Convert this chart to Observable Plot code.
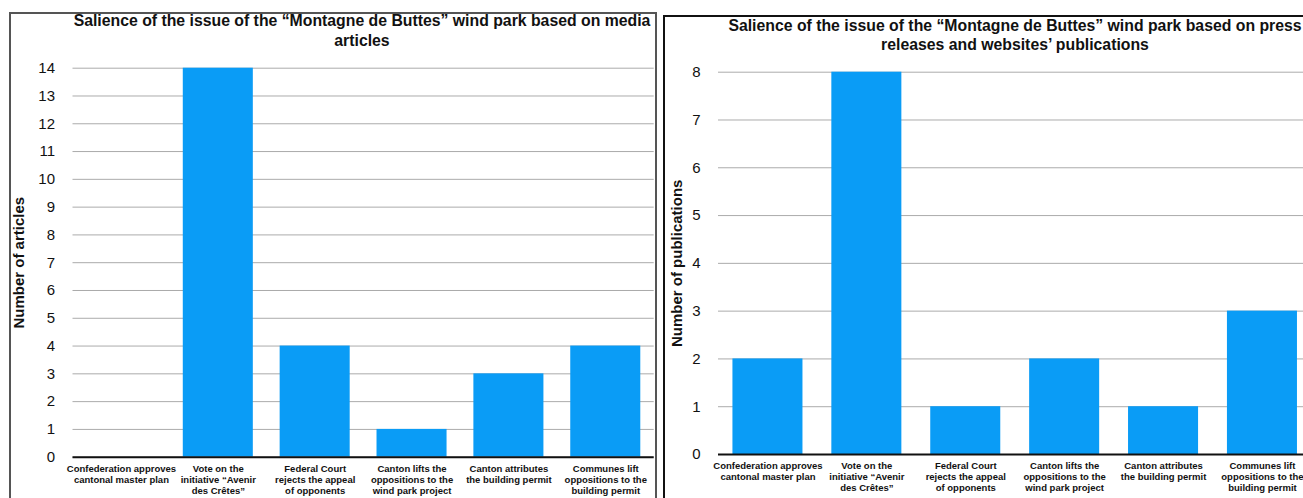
<!DOCTYPE html>
<html>
<head>
<meta charset="utf-8">
<script src="https://cdn.jsdelivr.net/npm/d3@7"></script>
<script src="https://cdn.jsdelivr.net/npm/@observablehq/plot@0.6"></script>
<style>
  html, body { margin: 0; padding: 0; background: #fff; }
  #page { position: relative; width: 1303px; height: 498px; overflow: hidden; font-family: "Liberation Sans", Arial, Helvetica, sans-serif; }
  .frame { position: absolute; box-sizing: border-box; }
  .title { position: absolute; text-align: center; font-weight: bold; font-size: 15.8px; color: #111; white-space: nowrap; }
  .chart { position: absolute; top: 0; width: 660px; height: 498px; }
  .chart svg { max-width: none !important; }
</style>
</head>
<body>
<div id="page">
  <div class="frame" style="left:9px;top:12px;width:648px;height:520px;border:2px solid #555;"></div>
  <div class="frame" style="left:663px;top:15px;width:700px;height:520px;border:2px solid #111;"></div>
  <div class="title" id="title-left" style="left:62px;top:11px;width:600px;line-height:20px;"></div>
  <div class="title" id="title-right" style="left:715px;top:16px;width:600px;line-height:19px;"></div>
  <div class="chart" id="chart-left" style="left:0px;"></div>
  <div class="chart" id="chart-right" style="left:660px;"></div>
</div>
<script>
// Event milestones of the "Montagne de Buttes" wind park
const events = [
  "Confederation approves\ncantonal master plan",
  "Vote on the\ninitiative “Avenir\ndes Crêtes”",
  "Federal Court\nrejects the appeal\nof opponents",
  "Canton lifts the\noppositions to the\nwind park project",
  "Canton attributes\nthe building permit",
  "Communes lift\noppositions to the\nbuilding permit"
];

// Counts per event
const articles = [0, 14, 4, 1, 3, 4];
const publications = [2, 8, 1, 2, 1, 3];

const titleLeft = [
  "Salience of the issue of the “Montagne de Buttes” wind park based on media",
  "articles"
];
const titleRight = [
  "Salience of the issue of the “Montagne de Buttes” wind park based on press",
  "releases and websites’ publications"
];

const yTicksLeft = d3.range(0, 15);
const yTicksRight = d3.range(0, 9);

const barColor = "#0a9cf6";
const gridColor = "#ababab";
const fontFamily = "'Liberation Sans', Arial, Helvetica, sans-serif";

document.getElementById("title-left").innerHTML = titleLeft.join("<br>");
document.getElementById("title-right").innerHTML = titleRight.join("<br>");

function salienceChart({values, yTicks, yLabel, marginLeft, marginRight, marginTop, marginBottom, paddingInner, labelOffset}) {
  const rows = events.map((event, i) => ({event, value: values[i]}));
  return Plot.plot({
    width: 660,
    height: 498,
    marginLeft, marginRight, marginTop, marginBottom,
    style: {fontFamily, fontSize: "14px", color: "#111", background: "transparent", overflow: "visible", maxWidth: "none"},
    x: {domain: events, paddingInner, paddingOuter: paddingInner / 2, round: false},
    y: {domain: [0, d3.max(yTicks)], ticks: yTicks},
    marks: [
      Plot.gridY(yTicks, {stroke: gridColor, strokeOpacity: 1, strokeWidth: 1}),
      Plot.barY(rows, {x: "event", y: "value", fill: barColor}),
      Plot.ruleY([0], {stroke: "#111", strokeWidth: 2}),
      Plot.axisY(yTicks, {
        tickSize: 0, tickPadding: 18, fontSize: 15,
        label: yLabel, labelAnchor: "center", labelArrow: "none", labelOffset
      }),
      Plot.axisX({
        tickSize: 0, tickPadding: 7, fontSize: 9.5, fontWeight: "bold",
        lineHeight: 1.15, label: null
      })
    ]
  });
}

const left = salienceChart({
  values: articles,
  yTicks: yTicksLeft,
  yLabel: "Number of articles",
  marginLeft: 72.5, marginRight: 6.3, marginTop: 67.7, marginBottom: 41.3,
  paddingInner: 0.277,
  labelOffset: 60
});
document.getElementById("chart-left").appendChild(left);

const right = salienceChart({
  values: publications,
  yTicks: yTicksRight,
  yLabel: "Number of publications",
  marginLeft: 58, marginRight: 8.6, marginTop: 71.7, marginBottom: 44,
  paddingInner: 0.292,
  labelOffset: 47
});
document.getElementById("chart-right").appendChild(right);

// Bold axis titles
document.querySelectorAll("#page svg [aria-label='y-axis label'] text, #page svg g[aria-label='y-axis label']").forEach(el => {
  el.setAttribute("font-weight", "bold");
  el.setAttribute("font-size", "15");
});
</script>
</body>
</html>
